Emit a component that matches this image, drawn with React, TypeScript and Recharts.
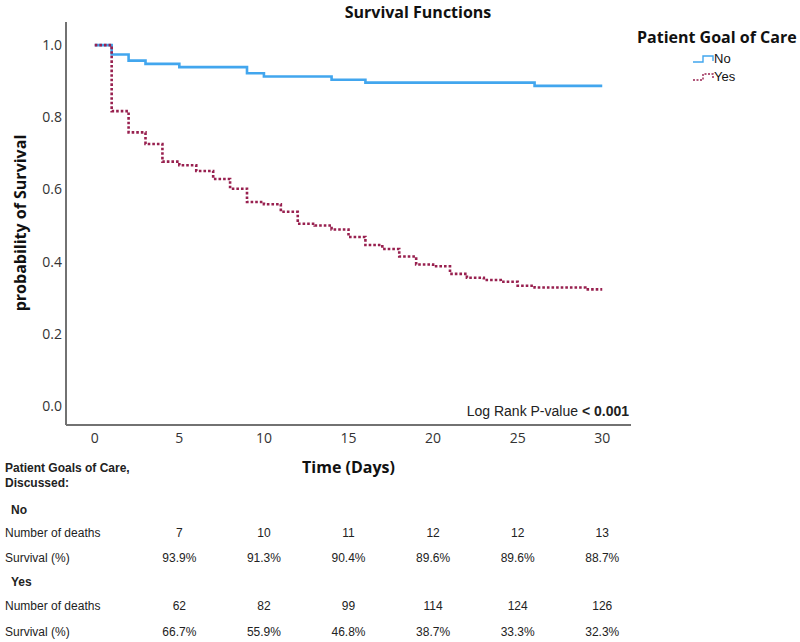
import React from "react";
import { LineChart, Line, XAxis, YAxis } from "recharts";

// Kaplan-Meier steps (day of step, survival after step)
const noDays = [0, 1, 2, 3, 5, 9, 10, 14, 16, 26, 30];
const noSurvival = [1.0, 0.974, 0.957, 0.948, 0.939, 0.922, 0.913, 0.904, 0.896, 0.887, 0.887];

const yesDays = [
  0, 1, 2, 3, 4, 5, 6, 7, 8, 9, 10, 11, 12, 13, 14, 15, 16, 17, 18, 19, 20,
  21, 22, 23, 24, 25, 26, 29, 30,
];
const yesSurvival = [
  1.0, 0.817, 0.758, 0.726, 0.677, 0.667, 0.651, 0.629, 0.602, 0.565, 0.559,
  0.538, 0.505, 0.5, 0.489, 0.468, 0.446, 0.435, 0.414, 0.392, 0.387, 0.366,
  0.355, 0.349, 0.344, 0.333, 0.328, 0.323, 0.323,
];

const xTicks = [0, 5, 10, 15, 20, 25, 30];
const yTicks = [0, 0.2, 0.4, 0.6, 0.8, 1.0];

// risk table
const tableDays = [5, 10, 15, 20, 25, 30];
const noDeaths = ["7", "10", "11", "12", "12", "13"];
const noSurvPct = ["93.9%", "91.3%", "90.4%", "89.6%", "89.6%", "88.7%"];
const yesDeaths = ["62", "82", "99", "114", "124", "126"];
const yesSurvPct = ["66.7%", "55.9%", "46.8%", "38.7%", "33.3%", "32.3%"];

const W = 800;
const H = 642;
const PLOT_LEFT = 66;
const PLOT_RIGHT = 631;
const PLOT_TOP = 22;
const PLOT_BOTTOM = 425;
const X_DOMAIN: [number, number] = [-1.7, 31.7];
const Y_DOMAIN: [number, number] = [-0.053, 1.064];

const BLUE = "#42a6ee";
const MAROON = "#98204f";
const AXIS = "#727272";

const noData = noDays.map((d, i) => ({ day: d, s: noSurvival[i] }));
const yesData = yesDays.map((d, i) => ({ day: d, s: yesSurvival[i] }));

const colX = (d: number) =>
  PLOT_LEFT + ((d - X_DOMAIN[0]) / (X_DOMAIN[1] - X_DOMAIN[0])) * (PLOT_RIGHT - PLOT_LEFT);

const TABLE_FONT = "'Liberation Sans', Arial, sans-serif";

function Row({ y, label, bold, indent, values }: {
  y: number;
  label: string;
  bold?: boolean;
  indent?: number;
  values?: string[];
}) {
  return (
    <>
      <div
        style={{
          position: "absolute",
          left: 5 + (indent || 0),
          top: y - 8,
          lineHeight: "16px",
          fontSize: 12,
          fontWeight: bold ? 700 : 400,
          fontFamily: TABLE_FONT,
          color: "#222",
          whiteSpace: "nowrap",
        }}
      >
        {label}
      </div>
      {values &&
        values.map((v, i) => (
          <div
            key={i}
            style={{
              position: "absolute",
              left: colX(tableDays[i]) - 30,
              width: 60,
              textAlign: "center",
              top: y - 8,
              lineHeight: "16px",
              fontSize: 12,
              fontFamily: TABLE_FONT,
              color: "#222",
            }}
          >
            {v}
          </div>
        ))}
    </>
  );
}

function LegendIcon({ color, dotted }: { color: string; dotted?: boolean }) {
  return (
    <svg width={22} height={10} style={{ position: "absolute", left: 0, top: 4 }}>
      <path
        d="M1 8 H11 V2 H21 V7"
        fill="none"
        stroke={color}
        strokeWidth={1.4}
        strokeDasharray={dotted ? "2 1.5" : undefined}
      />
    </svg>
  );
}

function LegendItem({ top, color, dotted, label }: {
  top: number;
  color: string;
  dotted?: boolean;
  label: string;
}) {
  return (
    <div style={{ position: "absolute", left: 692, top, height: 18, width: 80 }}>
      <LegendIcon color={color} dotted={dotted} />
      <span
        style={{
          position: "absolute",
          left: 22,
          top: 0,
          fontSize: 13,
          lineHeight: "18px",
          color: "#111",
          fontFamily: "'Liberation Sans', Arial, sans-serif",
        }}
      >
        {label}
      </span>
    </div>
  );
}

export default function App() {
  return (
    <div
      style={{
        position: "absolute",
        left: 0,
        top: 0,
        width: W,
        height: H,
        background: "#fff",
        fontFamily: "'Open Sans', sans-serif",
      }}
    >
      <LineChart
        width={W}
        height={H}
        margin={{ top: PLOT_TOP, left: 16, right: W - PLOT_RIGHT, bottom: H - PLOT_BOTTOM - 30 }}
      >
        <XAxis
          type="number"
          dataKey="day"
          domain={X_DOMAIN}
          ticks={xTicks}
          allowDataOverflow
          height={30}
          tickLine={false}
          tickMargin={2}
          axisLine={{ stroke: AXIS, strokeWidth: 2 }}
          tick={{ fontSize: 14, fill: "#333", fontFamily: "'Open Sans', sans-serif" }}
        />
        <YAxis
          type="number"
          dataKey="s"
          domain={Y_DOMAIN}
          ticks={yTicks}
          allowDataOverflow
          width={PLOT_LEFT - 16}
          tickLine={false}
          tickSize={3}
          tickMargin={1}
          tickFormatter={(v: number) => v.toFixed(1)}
          axisLine={{ stroke: AXIS, strokeWidth: 2 }}
          tick={{ fontSize: 14, fill: "#333", fontFamily: "'Open Sans', sans-serif" }}
        />
        <Line
          data={noData}
          dataKey="s"
          type="stepAfter"
          stroke={BLUE}
          strokeWidth={2.6}
          dot={false}
          activeDot={false}
          isAnimationActive={false}
        />
        <Line
          data={yesData}
          dataKey="s"
          type="stepAfter"
          stroke={MAROON}
          strokeWidth={2.6}
          strokeDasharray="2.6 2"
          dot={false}
          activeDot={false}
          isAnimationActive={false}
        />
      </LineChart>

      {/* title */}
      <div
        style={{
          position: "absolute",
          left: 318,
          width: 200,
          top: 2,
          textAlign: "center",
          fontSize: 16,
          fontWeight: 700,
          color: "#111",
          lineHeight: "20px",
        }}
      >
        Survival Functions
      </div>

      {/* legend */}
      <div
        style={{
          position: "absolute",
          left: 637,
          top: 27,
          fontSize: 16,
          fontWeight: 700,
          color: "#111",
          lineHeight: "20px",
          whiteSpace: "nowrap",
        }}
      >
        Patient Goal of Care
      </div>
      <LegendItem top={50} color={BLUE} label="No" />
      <LegendItem top={68} color={MAROON} dotted label="Yes" />

      {/* axis titles */}
      <div
        style={{
          position: "absolute",
          left: (PLOT_LEFT + PLOT_RIGHT) / 2 - 100,
          width: 200,
          top: 457,
          textAlign: "center",
          fontSize: 16,
          fontWeight: 700,
          color: "#111",
          lineHeight: "20px",
        }}
      >
        Time (Days)
      </div>
      <div
        style={{
          position: "absolute",
          left: 20 - 120,
          top: 223 - 10,
          width: 240,
          textAlign: "center",
          fontSize: 16,
          fontWeight: 700,
          color: "#111",
          lineHeight: "20px",
          transform: "rotate(-90deg)",
        }}
      >
        probability of Survival
      </div>

      {/* log rank annotation */}
      <div
        style={{
          position: "absolute",
          right: W - 629,
          top: 402,
          fontSize: 14,
          lineHeight: "18px",
          fontFamily: "'Liberation Sans', Arial, sans-serif",
          color: "#222",
          whiteSpace: "nowrap",
        }}
      >
        Log Rank P-value <b>&lt; 0.001</b>
      </div>

      {/* risk table */}
      <Row y={468} label="Patient Goals of Care," bold />
      <Row y={483} label="Discussed:" bold />
      <Row y={510} label="No" bold indent={6} />
      <Row y={533} label="Number of deaths" values={noDeaths} />
      <Row y={558} label="Survival (%)" values={noSurvPct} />
      <Row y={582} label="Yes" bold indent={6} />
      <Row y={606} label="Number of deaths" values={yesDeaths} />
      <Row y={632} label="Survival (%)" values={yesSurvPct} />
    </div>
  );
}
